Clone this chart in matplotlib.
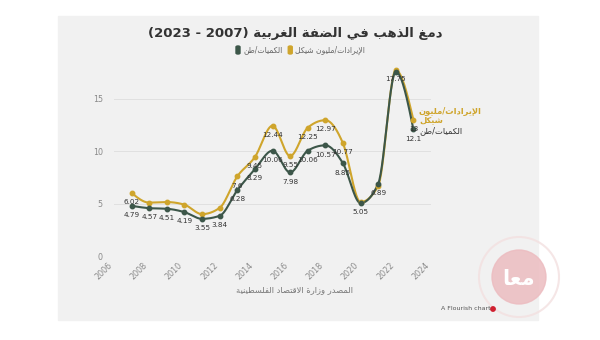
import re
import numpy as np
import matplotlib
matplotlib.use('Agg')
import matplotlib.pyplot as plt
from matplotlib.patches import Rectangle, FancyBboxPatch, Ellipse

# data
years = [2007, 2008, 2009, 2010, 2011, 2012, 2013, 2014, 2015, 2016, 2017,
         2018, 2019, 2020, 2021, 2022, 2023]
revenue = [6.02, 5.1, 5.15, 4.9, 4.0, 4.6, 7.6, 9.45, 12.44, 9.55, 12.25,
           12.97, 10.77, 5.15, 6.7, 17.75, 13]
quantity = [4.79, 4.57, 4.51, 4.19, 3.55, 3.84, 6.28, 8.29, 10.06, 7.98, 10.06,
            10.57, 8.85, 5.05, 6.89, 17.6, 12.1]
# which points carry a value label
rev_labelled = [2007, 2013, 2014, 2015, 2016, 2017, 2018, 2019, 2022, 2023]
qty_labelled = [y for y in years if y != 2022]

title = 'دمغ الذهب في الضفة الغربية (2007 - 2023)'
rev_name = 'الإيرادات/مليون شيكل'
qty_name = 'الكميات/طن'
source = 'المصدر وزارة الاقتصاد الفلسطينية'
xticks = list(range(2006, 2025, 2))
yticks = [0, 5, 10, 15]

GOLD = '#cfa52c'
DARK = '#3c5649'

# --- tiny arabic shaper (no reshaper lib available) ---
AR = {'ء': (0xFE80, 1), 'آ': (0xFE81, 2), 'أ': (0xFE83, 2), 'ؤ': (0xFE85, 2),
      'إ': (0xFE87, 2), 'ئ': (0xFE89, 4), 'ا': (0xFE8D, 2), 'ب': (0xFE8F, 4),
      'ة': (0xFE93, 2), 'ت': (0xFE95, 4), 'ث': (0xFE99, 4), 'ج': (0xFE9D, 4),
      'ح': (0xFEA1, 4), 'خ': (0xFEA5, 4), 'د': (0xFEA9, 2), 'ذ': (0xFEAB, 2),
      'ر': (0xFEAD, 2), 'ز': (0xFEAF, 2), 'س': (0xFEB1, 4), 'ش': (0xFEB5, 4),
      'ص': (0xFEB9, 4), 'ض': (0xFEBD, 4), 'ط': (0xFEC1, 4), 'ظ': (0xFEC5, 4),
      'ع': (0xFEC9, 4), 'غ': (0xFECD, 4), 'ف': (0xFED1, 4), 'ق': (0xFED5, 4),
      'ك': (0xFED9, 4), 'ل': (0xFEDD, 4), 'م': (0xFEE1, 4), 'ن': (0xFEE5, 4),
      'ه': (0xFEE9, 4), 'و': (0xFEED, 2), 'ى': (0xFEEF, 2), 'ي': (0xFEF1, 4)}
LAM_ALEF = {'آ': 0xFEF5, 'أ': 0xFEF7, 'إ': 0xFEF9, 'ا': 0xFEFB}


def shape(s):
    chars = []
    i = 0
    while i < len(s):
        if s[i] == 'ل' and i + 1 < len(s) and s[i + 1] in LAM_ALEF:
            chars.append(('LA', LAM_ALEF[s[i + 1]]))
            i += 2
        else:
            chars.append((s[i], None))
            i += 1
    out = []
    for k, (c, la) in enumerate(chars):
        prev = chars[k - 1][0] if k > 0 else None
        nxt = chars[k + 1][0] if k + 1 < len(chars) else None
        jp = prev in AR and AR[prev][1] == 4
        if la is not None:
            out.append(chr(la + (1 if jp else 0)))
            continue
        if c not in AR:
            out.append(c)
            continue
        base, n = AR[c]
        jp = jp and n > 1
        jn = n == 4 and (nxt in AR or nxt == 'LA')
        f = 3 if (jp and jn) else 2 if jn else 1 if jp else 0
        out.append(chr(base + f))
    return ''.join(out)


def rtl(s):
    toks = re.findall(r'\d+|\D', shape(s))[::-1]
    mirror = {'(': ')', ')': '('}
    return ''.join(mirror.get(t, t) for t in toks)


def monotone(x, y, n=30):
    # d3 curveMonotoneX style hermite
    x = np.asarray(x, float)
    y = np.asarray(y, float)
    h = np.diff(x)
    s = np.diff(y) / h
    t = np.zeros(len(x))
    for i in range(1, len(x) - 1):
        p = (s[i - 1] * h[i] + s[i] * h[i - 1]) / (h[i - 1] + h[i])
        t[i] = (np.sign(s[i - 1]) + np.sign(s[i])) * min(abs(s[i - 1]), abs(s[i]), 0.5 * abs(p))
    t[0] = (3 * s[0] - t[1]) / 2
    t[-1] = (3 * s[-1] - t[-2]) / 2
    xs, ys = [], []
    for i in range(len(x) - 1):
        u = np.linspace(0, 1, n)
        h00 = 2 * u**3 - 3 * u**2 + 1
        h10 = u**3 - 2 * u**2 + u
        h01 = -2 * u**3 + 3 * u**2
        h11 = u**3 - u**2
        xs.append(x[i] + u * h[i])
        ys.append(h00 * y[i] + h10 * h[i] * t[i] + h01 * y[i + 1] + h11 * h[i] * t[i + 1])
    return np.concatenate(xs), np.concatenate(ys)


def circ(x, y, r, **kw):
    # circle in figure pixels (top-left origin)
    return Ellipse((x / W, 1 - y / H), 2 * r / W, 2 * r / H,
                   transform=fig.transFigure, **kw)


plt.rcParams['font.family'] = ['DejaVu Sans']
fig = plt.figure(figsize=(6, 3.4), dpi=100, facecolor='white')
W, H = 600, 340

# card background
fig.patches.append(Rectangle((58 / W, 1 - 320 / H), 480 / W, 304 / H,
                             transform=fig.transFigure, color='#f1f1f1', zorder=-5))

ax = fig.add_axes([114 / W, 1 - 256 / H, 317 / W, 194 / H])
ax.set_zorder(2)
ax.set_facecolor('none')
ax.set_xlim(2006, 2024)
ax.set_ylim(0, 194 / 10.47)
for sp in ax.spines.values():
    sp.set_visible(False)
ax.set_yticks(yticks)
ax.set_xticks(xticks)
ax.tick_params(length=0, labelsize=5.8, labelcolor='#8a8a8a')
ax.tick_params(axis='y', pad=8)
for lbl in ax.get_xticklabels():
    lbl.set_rotation(45)
    lbl.set_ha('right')
    lbl.set_va('top')
ax.grid(axis='y', color='#e0e0e0', linewidth=0.7)

for vals, col in [(revenue, GOLD), (quantity, DARK)]:
    sx, sy = monotone(years, vals)
    ax.plot(sx, sy, color=col, linewidth=1.5, zorder=3, solid_capstyle='round')
    ax.plot(years, vals, 'o', color=col, markersize=3.2, zorder=4)

for vals, lab in [(revenue, rev_labelled), (quantity, qty_labelled)]:
    for yr, v in zip(years, vals):
        if yr in lab:
            ax.annotate(f'{v:g}', (yr, v), xytext=(0, -4.5), textcoords='offset points',
                        ha='center', va='top', fontsize=5.2, color='#333333', zorder=5)

# end labels
ax.annotate(rtl('الإيرادات/مليون') + '\n' + rtl('شيكل'), (years[-1], revenue[-1]),
            xytext=(4, 3), textcoords='offset points', ha='left', va='center',
            fontsize=6, color=GOLD, fontweight='bold', linespacing=0.9,
            annotation_clip=False)
ax.annotate(rtl(qty_name), (years[-1], quantity[-1]), xytext=(4, -1),
            textcoords='offset points', ha='left', va='center',
            fontsize=6, color='#333333', annotation_clip=False)

# title, legend, source
fig.text(295 / W, 1 - 33 / H, rtl(title), ha='center', va='center',
         fontsize=9.5, fontweight='bold', color='#333333')
lx = 236
for name, col in [(qty_name, DARK), (rev_name, GOLD)]:
    fig.patches.append(FancyBboxPatch((lx / W, 1 - 54 / H), 4 / W, 8 / H,
                                      boxstyle='round,pad=0,rounding_size=0.003',
                                      transform=fig.transFigure, color=col))
    t = fig.text((lx + 7) / W, 1 - 50 / H, rtl(name), ha='left', va='center',
                 fontsize=5.5, color='#666666')
    fig.canvas.draw()
    bb = t.get_window_extent()
    lx = bb.x1 + 6

fig.text(295 / W, 1 - 290 / H, rtl(source), ha='center', va='center',
         fontsize=6, color='#777777')

# watermark logo
fig.patches.append(circ(519, 277, 40, fill=False, ec='#f3e0e0', lw=1.5, alpha=0.8))
fig.patches.append(circ(519, 277, 27, color='#ecbcc0', alpha=0.85))
fig.text(519 / W, 1 - 279 / H, rtl('معا'), ha='center', va='center', fontsize=15,
         fontweight='bold', color='white')

fig.text(441 / W, 1 - 309 / H, 'A Flourish chart', ha='left', va='center',
         fontsize=4.5, color='#555555')
fig.patches.append(circ(493, 309, 2.2, color='#d02030'))

fig.savefig('out.png', dpi=100, facecolor='white')
